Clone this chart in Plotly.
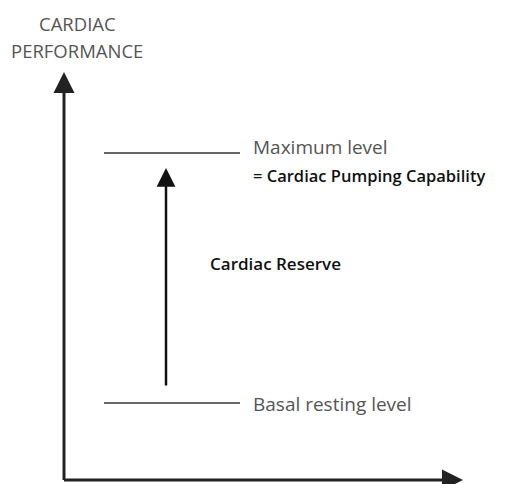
import plotly.graph_objects as go

# Diagram values (data units: x to the right, y up = cardiac performance)
level_names = ["Basal resting level", "Maximum level"]
level_values = [81, 331]
level_x = [104, 240]
axis_origin = [64, 4]
axis_ends = [463, 412]
axis_title = ["CARDIAC", "PERFORMANCE"]
capability_text = "= Cardiac Pumping Capability"
reserve_text = "Cardiac Reserve"

FONT = "Open Sans"
GRAY = "#555555"

fig = go.Figure()

# level lines
for v in level_values:
    fig.add_trace(go.Scatter(x=level_x, y=[v, v], mode="lines",
                             line=dict(color="#333333", width=1.4),
                             hoverinfo="skip", showlegend=False))

anns = []
# axes arrows
anns.append(dict(x=axis_origin[0], y=axis_ends[1], ax=axis_origin[0], ay=axis_origin[1] - 1.5,
                 xref="x", yref="y", axref="x", ayref="y", text="", showarrow=True,
                 arrowhead=2, arrowsize=1.4, arrowwidth=3, arrowcolor="#222222"))
anns.append(dict(x=axis_ends[0], y=axis_origin[1], ax=axis_origin[0] - 1.5, ay=axis_origin[1],
                 xref="x", yref="y", axref="x", ayref="y", text="", showarrow=True,
                 arrowhead=2, arrowsize=1.4, arrowwidth=3, arrowcolor="#222222"))
# reserve arrow
anns.append(dict(x=166, y=level_values[1] - 15, ax=166, ay=level_values[0] + 16,
                 xref="x", yref="y", axref="x", ayref="y", text="", showarrow=True,
                 arrowhead=2, arrowsize=1.5, arrowwidth=2.5, arrowcolor="#111111"))

# texts
anns.append(dict(x=251, y=level_values[1] + 6, text=level_names[1], showarrow=False,
                 xanchor="left", yanchor="middle", font=dict(family=FONT, size=19, color=GRAY)))
anns.append(dict(x=251, y=level_values[1] - 22, text=capability_text, showarrow=False,
                 xanchor="left", yanchor="middle", font=dict(family=FONT, size=16.5, color="#111111", weight=600)))
anns.append(dict(x=251, y=level_values[0] - 1, text=level_names[0], showarrow=False,
                 xanchor="left", yanchor="middle", font=dict(family=FONT, size=19, color=GRAY)))
anns.append(dict(x=208, y=221, text=reserve_text, showarrow=False,
                 xanchor="left", yanchor="middle", font=dict(family=FONT, size=17, color="#111111", weight=600)))
anns.append(dict(x=77, y=461, text=axis_title[0], showarrow=False,
                 xanchor="center", yanchor="middle", font=dict(family=FONT, size=18.5, color=GRAY)))
anns.append(dict(x=77, y=434, text=axis_title[1], showarrow=False,
                 xanchor="center", yanchor="middle", font=dict(family=FONT, size=18.5, color=GRAY)))

# The page places the figure 8px from the top-left, so the ranges are offset by 8 units.
fig.update_layout(
    width=515, height=484,
    margin=dict(l=0, r=0, t=0, b=0),
    paper_bgcolor="white", plot_bgcolor="white",
    xaxis=dict(range=[8, 523], visible=False, fixedrange=True),
    yaxis=dict(range=[-8, 476], visible=False, fixedrange=True),
    annotations=anns,
    showlegend=False,
)

fig.write_html("out.html")
